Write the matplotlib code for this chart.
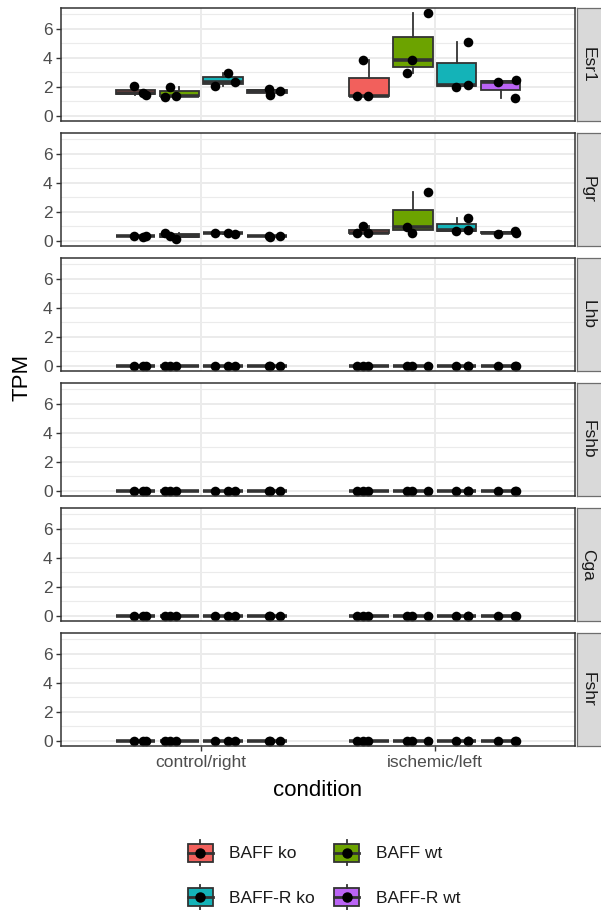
import matplotlib
matplotlib.use("Agg")
import matplotlib.pyplot as plt
from matplotlib.legend_handler import HandlerBase
from matplotlib.patches import Rectangle, Patch
from matplotlib.lines import Line2D
from matplotlib.ticker import FixedLocator

plt.rcParams['font.family'] = ['Liberation Sans', 'DejaVu Sans']

conditions = ["control/right", "ischemic/left"]
groups = ["BAFF ko", "BAFF wt", "BAFF-R ko", "BAFF-R wt"]
genes = ["Esr1", "Pgr", "Lhb", "Fshb", "Cga", "Fshr"]
group_colors = ["#F2605C", "#6CA300", "#14B3B8", "#BB64F5"]

# TPM values: [condition][group][sample]
esr1 = [
    [[2.05, 1.55, 1.45], [1.30, 2.02, 1.40], [2.09, 2.95, 2.36], [1.86, 1.45, 1.70]],
    [[1.36, 3.86, 1.34], [2.93, 3.86, 7.09], [2.02, 2.15, 5.11], [2.34, 1.23, 2.45]],
]
pgr = [
    [[0.34, 0.30, 0.34], [0.55, 0.35, 0.16], [0.55, 0.52, 0.50], [0.34, 0.30, 0.34]],
    [[0.52, 1.00, 0.55], [0.95, 0.55, 3.34], [0.68, 0.72, 1.55], [0.50, 0.68, 0.55]],
]
lhb = [
    [[0.0, 0.0, 0.0], [0.0, 0.0, 0.0], [0.0, 0.0, 0.0], [0.0, 0.0, 0.0]],
    [[0.0, 0.0, 0.0], [0.0, 0.0, 0.0], [0.0, 0.0, 0.0], [0.0, 0.0, 0.0]],
]
fshb = [
    [[0.0, 0.0, 0.0], [0.0, 0.0, 0.0], [0.0, 0.0, 0.0], [0.0, 0.0, 0.0]],
    [[0.0, 0.0, 0.0], [0.0, 0.0, 0.0], [0.0, 0.0, 0.0], [0.0, 0.0, 0.0]],
]
cga = [
    [[0.0, 0.0, 0.0], [0.0, 0.0, 0.0], [0.0, 0.0, 0.0], [0.0, 0.0, 0.0]],
    [[0.0, 0.0, 0.0], [0.0, 0.0, 0.0], [0.0, 0.0, 0.0], [0.0, 0.0, 0.0]],
]
fshr = [
    [[0.0, 0.0, 0.0], [0.0, 0.0, 0.0], [0.0, 0.0, 0.0], [0.0, 0.0, 0.0]],
    [[0.0, 0.0, 0.0], [0.0, 0.0, 0.0], [0.0, 0.0, 0.0], [0.0, 0.0, 0.0]],
]
gene_values = [esr1, pgr, lhb, fshb, cga, fshr]

# horizontal jitter of each sample's point (same samples in every facet)
jitter = [
    [[-0.005, 0.033, 0.045], [-0.061, -0.040, -0.014], [-0.035, 0.020, 0.051], [0.010, 0.015, 0.056]],
    [[-0.053, -0.027, -0.003], [-0.027, -0.005, 0.066], [-0.003, 0.047, 0.050], [-0.009, 0.062, 0.066]],
]

# ---- layout (pixel based) ----
W, H = 601, 910
fig = plt.figure(figsize=(W / 100, H / 100), dpi=100)

EDGE = "#333333"
GRID = "#EBEBEB"
TICK_TXT = "#4D4D4D"
FS = 12.5
TITLE_FS = 16

left_px, right_px = 61, 575
strip_l, strip_r = 577, 604
top0, panel_h, pitch = 8, 113, 125
dodge = 0.75 / len(groups)
box_w = dodge * 0.9

all_vals = [v for g in gene_values for c in g for grp in c for v in grp]
ymin, ymax = min(all_vals), max(all_vals)
yr = ymax - ymin
ylim = (ymin - 0.05 * yr, ymax + 0.05 * yr)


def frac_rect(x0, x1, y0, y1):
    return [x0 / W, 1 - y1 / H, (x1 - x0) / W, (y1 - y0) / H]


for gi_gene, (gene, vals) in enumerate(zip(genes, gene_values)):
    top = top0 + gi_gene * pitch
    ax = fig.add_axes(frac_rect(left_px, right_px, top, top + panel_h))
    ax.set_facecolor("white")
    ax.set_xlim(0.4, 2.6)
    ax.set_ylim(*ylim)
    ax.yaxis.set_major_locator(FixedLocator([0, 2, 4, 6]))
    ax.yaxis.set_minor_locator(FixedLocator([1, 3, 5, 7]))
    ax.xaxis.set_major_locator(FixedLocator([1, 2]))
    ax.set_axisbelow(True)
    ax.grid(True, which="major", color=GRID, lw=1.4)
    ax.grid(True, which="minor", axis="y", color=GRID, lw=0.8)

    for ci in range(len(conditions)):
        for gi in range(len(groups)):
            pos = (ci + 1) + (gi - (len(groups) - 1) / 2) * dodge
            data = vals[ci][gi]
            ax.boxplot(
                [data], positions=[pos], widths=box_w, patch_artist=True,
                showcaps=False, showfliers=False, whis=1.5, manage_ticks=False,
                boxprops=dict(facecolor=group_colors[gi], edgecolor=EDGE, linewidth=1.3),
                whiskerprops=dict(color=EDGE, linewidth=1.3),
                medianprops=dict(color=EDGE, linewidth=2.6),
            )
            xs = [pos + j for j in jitter[ci][gi]]
            ax.scatter(xs, data, s=48, color="black", zorder=5, linewidths=0)

    for sp in ax.spines.values():
        sp.set_color(EDGE)
        sp.set_linewidth(1.1)
        sp.set_zorder(6)
    ax.tick_params(axis="y", which="major", length=3.5, width=1.0, color=EDGE,
                   labelcolor=TICK_TXT, labelsize=FS, pad=2.5)
    ax.tick_params(axis="y", which="minor", length=0)
    if gi_gene == len(genes) - 1:
        ax.set_xticklabels(conditions)
        ax.tick_params(axis="x", length=3.5, width=1.0, color=EDGE,
                       labelcolor=TICK_TXT, labelsize=FS, pad=3)
    else:
        ax.tick_params(axis="x", length=0, labelbottom=False)

    # facet strip on the right
    sax = fig.add_axes(frac_rect(strip_l, strip_r, top, top + panel_h))
    sax.set_facecolor("#D9D9D9")
    sax.set_xticks([])
    sax.set_yticks([])
    for sp in sax.spines.values():
        sp.set_color("#6E6E6E")
        sp.set_linewidth(0.9)
    sax.text(0.4, 0.5, gene, rotation=-90, ha="center", va="center",
             fontsize=FS, color="#1A1A1A", transform=sax.transAxes)

# axis titles
fig.text(22 / W, 1 - 377 / H, "TPM", rotation=90, ha="center", va="center",
         fontsize=TITLE_FS, color="black")
fig.text(318 / W, 1 - 790 / H, "condition", ha="center", va="center",
         fontsize=TITLE_FS, color="black")


class BoxKey(HandlerBase):
    def create_artists(self, legend, orig_handle, xdescent, ydescent,
                       width, height, fontsize, trans):
        x0, y0 = -xdescent, -ydescent
        cx, cy = x0 + width / 2, y0 + height / 2
        bh = height * 0.7
        rect = Rectangle((x0, cy - bh / 2), width, bh,
                         facecolor=orig_handle.get_facecolor(), edgecolor=EDGE,
                         linewidth=1.3, transform=trans)
        w1 = Line2D([cx, cx], [y0, cy - bh / 2], color=EDGE, lw=1.3, transform=trans)
        w2 = Line2D([cx, cx], [cy + bh / 2, y0 + height], color=EDGE, lw=1.3, transform=trans)
        med = Line2D([x0, x0 + width], [cy, cy], color=EDGE, lw=2.0, transform=trans)
        pt = Line2D([cx], [cy], marker="o", ms=6.5, color="black", lw=0, transform=trans)
        return [rect, w1, w2, med, pt]


handles = [Patch(facecolor=c) for c in group_colors]
order = [0, 2, 1, 3]
leg = fig.legend(
    [handles[i] for i in order], [groups[i] for i in order],
    handler_map={Patch: BoxKey()}, ncol=2, frameon=False,
    loc="center", bbox_to_anchor=(324 / W, 1 - 875 / H),
    fontsize=FS, handlelength=1.45, handleheight=1.85,
    handletextpad=0.95, columnspacing=1.1, labelspacing=1.1,
    borderpad=0.2,
)
for t in leg.get_texts():
    t.set_color("#1A1A1A")

fig.savefig("out.png", dpi=100, facecolor="white")
